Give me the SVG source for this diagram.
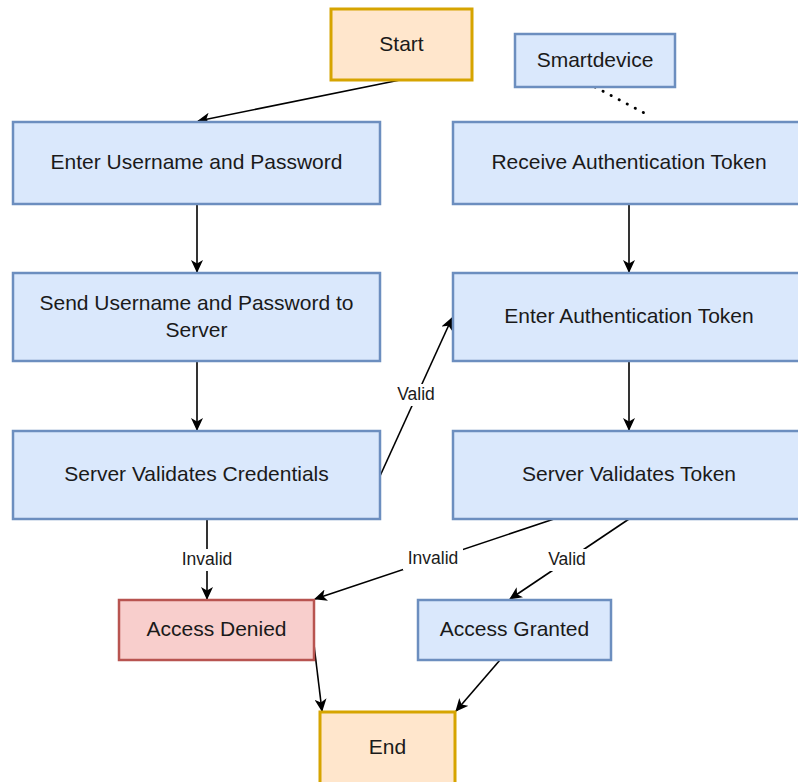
<svg xmlns="http://www.w3.org/2000/svg" width="798" height="782" viewBox="0 0 798 782">
<style>
.blue{fill:#dae8fc;stroke:#6c8ebf;stroke-width:2.5}
.orange{fill:#ffe6cc;stroke:#d6a400;stroke-width:3}
.red{fill:#f8cecc;stroke:#b85450;stroke-width:2.5}
text{font-family:"Liberation Sans",Arial,sans-serif;fill:#1a1a1a;text-anchor:middle;dominant-baseline:central}
.t{font-size:21px}
.l{font-size:17.5px}
.c{stroke:#000;stroke-width:1.6;fill:none;marker-end:url(#ah)}
.lbg{fill:#fff}
</style>
<defs>
<marker id="ah" markerWidth="14" markerHeight="12" refX="12" refY="6" orient="auto" markerUnits="userSpaceOnUse">
<path d="M0,0 L13,6 L0,12 L3.5,6 Z" fill="#000"/>
</marker>
</defs>
<rect width="798" height="782" fill="#fff"/>
<g id="connectors">
<line class="c" x1="400" y1="80" x2="198" y2="121"/>
<line class="c" x1="197" y1="204" x2="197" y2="272"/>
<line class="c" x1="197" y1="361" x2="197" y2="430"/>
<line class="c" x1="380" y1="476" x2="452" y2="318"/>
<line x1="595" y1="87" x2="650" y2="116" stroke="#000" stroke-width="3" stroke-dasharray="0.1 9" stroke-linecap="round"/>
<line class="c" x1="629" y1="204" x2="629" y2="272"/>
<line class="c" x1="629" y1="361" x2="629" y2="430"/>
<line class="c" x1="207" y1="519" x2="207" y2="599"/>
<line class="c" x1="554" y1="519" x2="315" y2="599"/>
<line class="c" x1="629" y1="519" x2="510" y2="599"/>
<line class="c" x1="314" y1="645" x2="322" y2="711"/>
<line class="c" x1="500" y1="660" x2="456" y2="711"/>
<rect class="lbg" x="392" y="384" width="48" height="22"/>
<text class="l" x="416" y="394">Valid</text>
<rect class="lbg" x="177" y="549" width="60" height="22"/>
<text class="l" x="207" y="559">Invalid</text>
<rect class="lbg" x="403" y="548" width="60" height="22"/>
<text class="l" x="433" y="558">Invalid</text>
<rect class="lbg" x="543" y="549" width="48" height="22"/>
<text class="l" x="567" y="559">Valid</text>
</g>
<g id="start"><rect class="orange" x="331" y="9" width="141" height="71"/><text class="t" x="401.5" y="43">Start</text></g>
<g id="smartdevice"><rect class="blue" x="515" y="34" width="160" height="53"/><text class="t" x="595" y="59">Smartdevice</text></g>
<g id="enter-username"><rect class="blue" x="13" y="122" width="367" height="82"/><text class="t" x="196.5" y="161">Enter Username and Password</text></g>
<g id="receive-token"><rect class="blue" x="453" y="122" width="352" height="82"/><text class="t" x="629" y="161">Receive Authentication Token</text></g>
<g id="send-username"><rect class="blue" x="13" y="273" width="367" height="88"/><text class="t" x="196.5" y="302">Send Username and Password to</text><text class="t" x="196.5" y="329">Server</text></g>
<g id="enter-token"><rect class="blue" x="453" y="273" width="352" height="88"/><text class="t" x="629" y="315">Enter Authentication Token</text></g>
<g id="validate-credentials"><rect class="blue" x="13" y="431" width="367" height="88"/><text class="t" x="196.5" y="473">Server Validates Credentials</text></g>
<g id="validate-token"><rect class="blue" x="453" y="431" width="352" height="88"/><text class="t" x="629" y="473">Server Validates Token</text></g>
<g id="access-denied"><rect class="red" x="119" y="600" width="195" height="60"/><text class="t" x="216.5" y="628">Access Denied</text></g>
<g id="access-granted"><rect class="blue" x="418" y="600" width="193" height="60"/><text class="t" x="514.5" y="628">Access Granted</text></g>
<g id="end"><rect class="orange" x="320" y="712" width="135" height="75"/><text class="t" x="387.5" y="746">End</text></g>
</svg>
